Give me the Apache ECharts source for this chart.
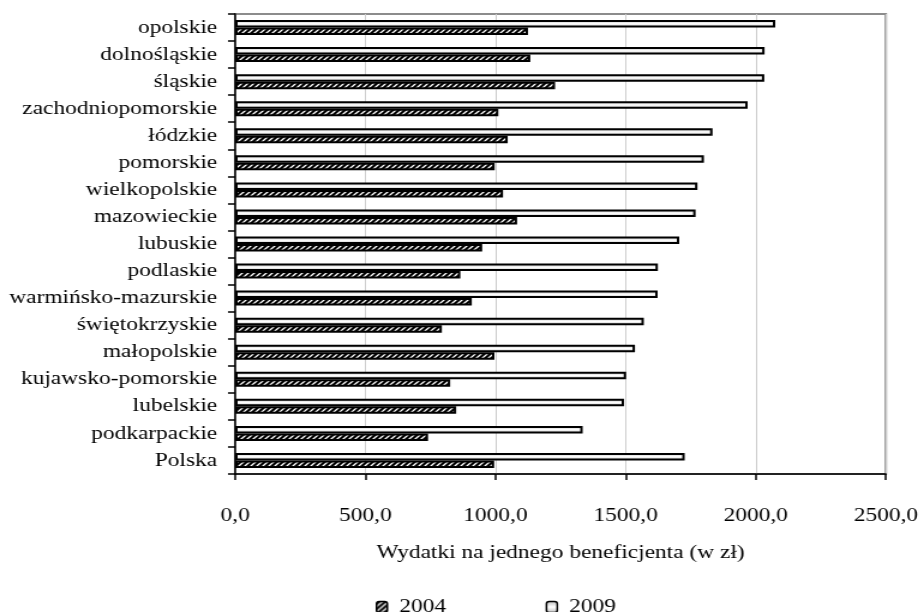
<!doctype html>
<html>
<head>
  <meta charset="utf-8">
  <title>Wydatki na jednego beneficjenta</title>
  <script src="https://cdn.jsdelivr.net/npm/echarts@6/dist/echarts.min.js"></script>
  <style>
    html, body { margin: 0; padding: 0; background: #fff; overflow: hidden; }
    /* oryginał jest rozciągnięty w poziomie, więc rysujemy węższy wykres i go rozciągamy */
    #chart { width: 768px; height: 612px; transform: scaleX(1.2); transform-origin: 0 0; }
  </style>
</head>
<body>
<div id="chart"></div>
<script type="text/javascript">

// województwa od dołu do góry (oś kategorii rośnie w górę)
var regions = ['Polska', 'podkarpackie', 'lubelskie', 'kujawsko-pomorskie', 'małopolskie',
  'świętokrzyskie', 'warmińsko-mazurskie', 'podlaskie', 'lubuskie', 'mazowieckie',
  'wielkopolskie', 'pomorskie', 'łódzkie', 'zachodniopomorskie', 'śląskie',
  'dolnośląskie', 'opolskie'];

var values2004 = [995, 741, 849, 826, 996, 794, 909, 865, 949, 1083, 1029, 997, 1047, 1011, 1229, 1134, 1125];
var values2009 = [1727, 1335, 1494, 1502, 1536, 1570, 1623, 1624, 1706, 1769, 1776, 1801, 1834, 1969, 2033, 2034, 2075];

var xTickLabels = ['0,0', '500,0', '1000,0', '1500,0', '2000,0', '2500,0'];

// kreskowanie dla 2004
function hatch() {
  var c = document.createElement('canvas');
  c.width = 5; c.height = 5;
  var ctx = c.getContext('2d');
  ctx.fillStyle = '#000';
  ctx.fillRect(0, 0, 5, 5);
  ctx.strokeStyle = '#fff';
  ctx.lineWidth = 1.3;
  ctx.beginPath();
  ctx.moveTo(0, 5); ctx.lineTo(5, 0);
  ctx.moveTo(-1, 1); ctx.lineTo(1, -1);
  ctx.moveTo(4, 6); ctx.lineTo(6, 4);
  ctx.stroke();
  return c;
}

var serif = 'Liberation Serif';
var chart = echarts.init(document.getElementById('chart'));

var option = {
  animation: false,
  textStyle: { fontFamily: serif, color: '#000' },
  grid: {
    left: 196, right: 28, top: 14, bottom: 138,
    show: true, borderColor: '#8c8c8c', borderWidth: 2
  },
  legend: {
    left: 308, top: 592,
    itemWidth: 9, itemHeight: 11, itemGap: 83,
    itemStyle: { borderWidth: 1.5 },
    formatter: function (name) { return ' ' + name; },
    textStyle: { fontFamily: serif, fontSize: 19.5, color: '#000' },
    data: ['2004', '2009']
  },
  xAxis: {
    type: 'value',
    min: 0, max: 2500, interval: 500,
    name: 'Wydatki na jednego beneficjenta (w zł)',
    nameLocation: 'middle', nameGap: 69,
    nameMoveOverlap: false,
    nameTextStyle: { fontFamily: serif, fontSize: 19.5, color: '#000' },
    axisLine: { show: true, lineStyle: { color: '#000', width: 1.5 } },
    axisTick: { show: true, length: 6, lineStyle: { color: '#000', width: 1.5 } },
    axisLabel: {
      margin: 32, fontFamily: serif, fontSize: 19.5, color: '#000',
      formatter: function (v, i) { return xTickLabels[i]; }
    },
    splitLine: { show: true, lineStyle: { color: '#cccccc', width: 1 } }
  },
  yAxis: {
    type: 'category',
    data: regions,
    axisLine: { show: true, lineStyle: { color: '#000', width: 1.5 } },
    axisTick: { show: true, length: 6, lineStyle: { color: '#000', width: 1.5 } },
    axisLabel: { margin: 15, fontFamily: serif, fontSize: 19.5, color: '#000' }
  },
  series: [
    {
      name: '2009',
      type: 'bar',
      data: values2009,
      barWidth: 7.5,
      barGap: '0%',
      itemStyle: {
        color: new echarts.graphic.LinearGradient(0, 0, 0, 1, [
          { offset: 0, color: '#b8b8b8' },
          { offset: 0.5, color: '#ffffff' },
          { offset: 1, color: '#b8b8b8' }
        ]),
        borderColor: '#000', borderWidth: 2
      }
    },
    {
      name: '2004',
      type: 'bar',
      data: values2004,
      barWidth: 7.5,
      barGap: '0%',
      itemStyle: {
        color: { image: hatch(), repeat: 'repeat' },
        borderColor: '#000', borderWidth: 2
      }
    }
  ]
};
chart.setOption(option);

</script>
</body>
</html>
